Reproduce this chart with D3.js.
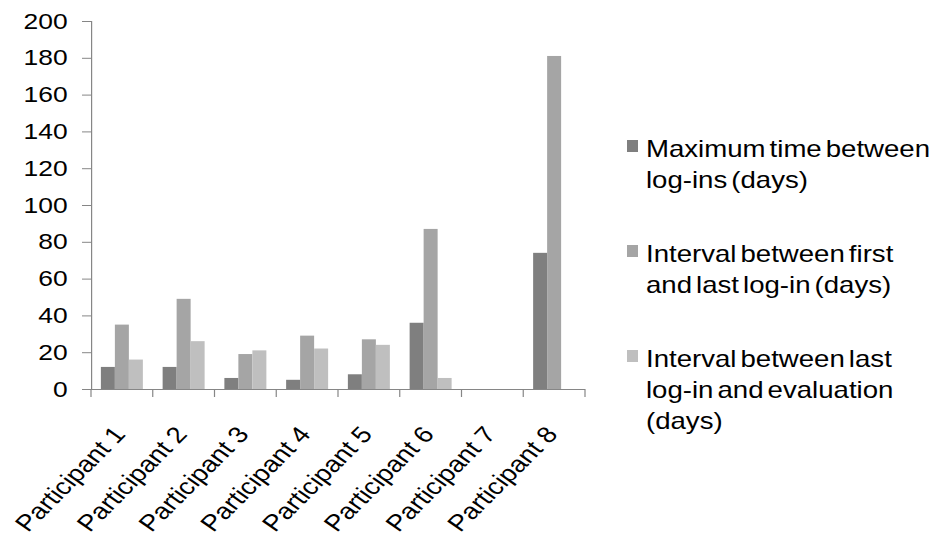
<!DOCTYPE html>
<html>
<head>
<meta charset="utf-8">
<script src="https://cdn.jsdelivr.net/npm/d3@7/dist/d3.min.js"></script>
<style>
  html, body { margin: 0; padding: 0; background: #fff; }
  svg { display: block; }
  text { font-family: Arial, "Liberation Sans", sans-serif; fill: #000; }
</style>
</head>
<body>
<svg id="chart" width="933" height="536"></svg>
<script>
const categories = ["Participant 1","Participant 2","Participant 3","Participant 4","Participant 5","Participant 6","Participant 7","Participant 8"];
const seriesNames = ["Maximum time between log-ins (days)","Interval between first and last log-in (days)","Interval between last log-in and evaluation (days)"];
const maxTimeBetween = [12, 12, 6, 5, 8, 36, 0, 74];
const firstToLast = [35, 49, 19, 29, 27, 87, 0, 181];
const lastToEvaluation = [16, 26, 21, 22, 24, 6, 0, 0];
const yTicks = [0, 20, 40, 60, 80, 100, 120, 140, 160, 180, 200];
const legendLines = [
  ["Maximum time between", "log-ins (days)"],
  ["Interval between first", "and last log-in (days)"],
  ["Interval between last", "log-in and evaluation", "(days)"]
];
const colors = ["#7f7f7f", "#a5a5a5", "#bfbfbf"];

const series = [maxTimeBetween, firstToLast, lastToEvaluation];
const SX = 1.2; // horizontal stretch of the original picture
const svg = d3.select("#chart");
const g = svg.append("g").attr("transform", `scale(${SX},1)`);

const x0 = 91 / SX, x1 = 585 / SX, yBottom = 389, yTop = 21;
const x = d3.scaleBand().domain(categories).range([x0, x1]).paddingInner(0.32).paddingOuter(0.16);
const xs = d3.scaleBand().domain(d3.range(series.length)).range([0, x.bandwidth()]);
const y = d3.scaleLinear().domain([0, 200]).range([yBottom, yTop]);
const axisColor = "#868686";

// y axis
const yAxis = g.append("g").attr("transform", `translate(${x0},0)`)
  .call(d3.axisLeft(y).tickValues(yTicks).tickSize(7.5).tickPadding(12).tickFormat(d3.format("d")));
yAxis.select(".domain").attr("stroke", axisColor);
yAxis.selectAll(".tick line").attr("stroke", axisColor);
yAxis.selectAll(".tick text").attr("font-size", 22).attr("fill", "#000").attr("font-family", "Arial, 'Liberation Sans', sans-serif");

// bars
const groups = g.append("g").selectAll("g").data(categories).join("g")
  .attr("transform", d => `translate(${x(d)},0)`);
groups.selectAll("rect").data((d, i) => series.map((s, k) => ({k, v: s[i]}))).join("rect")
  .attr("x", d => xs(d.k))
  .attr("width", xs.bandwidth())
  .attr("y", d => y(d.v))
  .attr("height", d => y(0) - y(d.v))
  .attr("fill", d => colors[d.k]);

// x axis line and boundary ticks
const step = x.step();
const bounds = categories.map(c => x(c) - step * 0.16).concat([x1]);
g.append("line").attr("x1", x0).attr("x2", x1).attr("y1", yBottom + 0.5).attr("y2", yBottom + 0.5)
  .attr("stroke", axisColor).attr("stroke-width", 1.2);
g.append("g").selectAll("line").data(bounds).join("line")
  .attr("x1", d => d).attr("x2", d => d).attr("y1", yBottom).attr("y2", yBottom + 8)
  .attr("stroke", axisColor).attr("stroke-width", 1);

// x labels
g.append("g").selectAll("text").data(categories).join("text")
  .attr("transform", d => `translate(${x(d) + x.bandwidth() / 2 + 4},${yBottom + 46}) rotate(-50)`)
  .attr("text-anchor", "end")
  .attr("font-size", 23)
  .text(d => d);

// legend
const legendBase = [157, 262, 367];
const lineH = 31;
const leg = g.append("g").selectAll("g").data(legendLines).join("g");
leg.append("rect")
  .attr("x", 627 / SX).attr("y", (d, i) => legendBase[i] - 17)
  .attr("width", 11 / SX).attr("height", 12)
  .attr("fill", (d, i) => colors[i]);
leg.each(function(lines, i) {
  d3.select(this).selectAll("text").data(lines).join("text")
    .attr("x", 646 / SX).attr("y", (t, j) => legendBase[i] + j * lineH)
    .attr("font-size", 23)
    .attr("word-spacing", -3)
    .text(t => t);
});
</script>
</body>
</html>
